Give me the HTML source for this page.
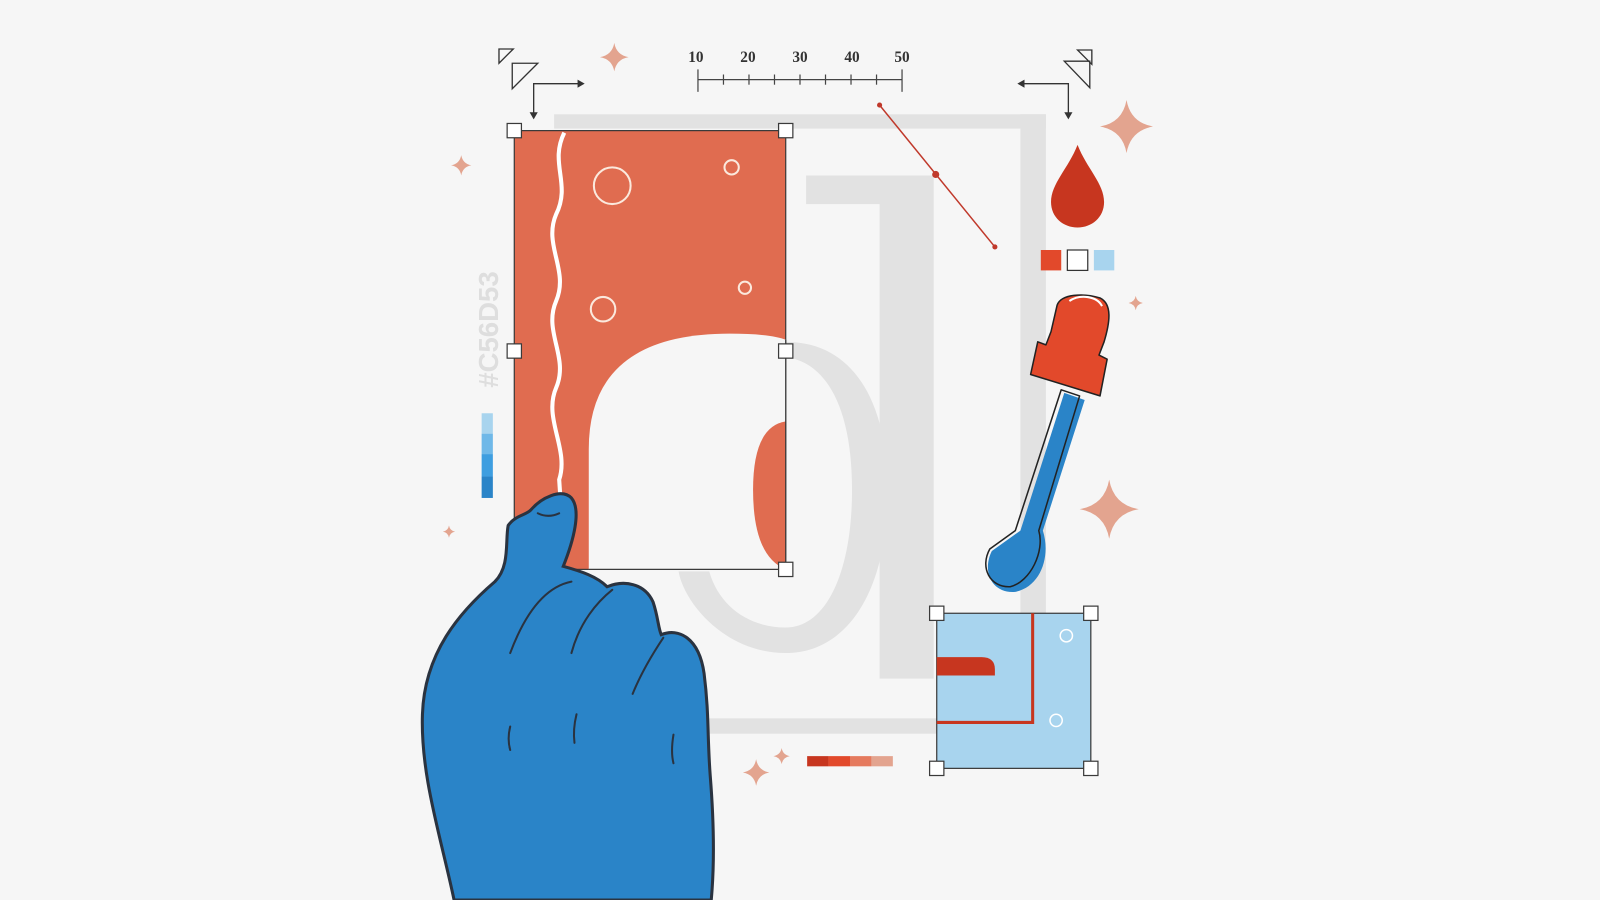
<!DOCTYPE html>
<html><head><meta charset="utf-8"><style>
html,body{margin:0;padding:0;background:#f6f6f6;width:1600px;height:900px;overflow:hidden}
svg{display:block}
</style></head><body>
<svg width="1600" height="900" viewBox="0 0 1568 882" xmlns="http://www.w3.org/2000/svg">
<defs>
<symbol id="sp" viewBox="-10 -10 20 20"><path d="M0,-10 Q1.5,-1.5 10,0 Q1.5,1.5 0,10 Q-1.5,1.5 -10,0 Q-1.5,-1.5 0,-10Z" fill="#e3a48f"/></symbol>
</defs>
<rect width="1568" height="882" fill="#f6f6f6"/>
<g fill="#e2e2e2">
<rect x="543" y="112" width="482" height="14"/>
<rect x="1000" y="112" width="25" height="490"/>
<rect x="690" y="704" width="228" height="15"/>
<path d="M790,172 L915,172 L915,665 L862,665 L862,200 L790,200Z"/>
<path d="M770,335 C840,335 870,400 870,480 C870,580 830,640 770,640 C710,640 670,590 665,560 L695,560 C705,595 735,615 770,615 C810,615 835,560 835,480 C835,400 810,355 770,350Z"/>
</g>
<rect x="504" y="128" width="266" height="430" fill="#e06c50" stroke="#3a3a3a" stroke-width="1.2"/>
<path d="M577,558 L577,440 Q577,327 715,327 Q755,327 770,333 L770,558Z" fill="#f6f6f6"/>
<path d="M770,413 Q738,418 738,480 Q738,545 770,558Z" fill="#e06c50"/>
<path d="M770,333 L770,558 L577,558" fill="none" stroke="#3a3a3a" stroke-width="1.2"/>
<path d="M553,130 C538,160 560,180 545,210 C532,240 558,265 545,295 C532,325 558,350 545,380 C532,410 558,440 548,470 L550,500" fill="none" stroke="#fff" stroke-width="4"/>
<g fill="none" stroke="#fbe9dd" stroke-width="2">
<circle cx="600" cy="182" r="18"/><circle cx="717" cy="164" r="7"/><circle cx="591" cy="303" r="12"/><circle cx="730" cy="282" r="6"/>
</g>
<g fill="#fff" stroke="#3a3a3a" stroke-width="1.2">
<rect x="497" y="121" width="14" height="14"/><rect x="763" y="121" width="14" height="14"/>
<rect x="497" y="337" width="14" height="14"/><rect x="763" y="337" width="14" height="14"/>
<rect x="763" y="551" width="14" height="14"/>
</g>
<g fill="none" stroke="#333" stroke-width="1.3">
<path d="M489,48 L503,48 L489,62Z"/><path d="M502,62 L527,62 L502,87Z"/>
<path d="M523,112 L523,82 L570,82"/>
<path d="M1081,48 L1081,62 L1067,48Z" transform="translate(-11,1)"/>
<path d="M1068,60 L1068,86 L1043,60Z"/>
<path d="M1047,112 L1047,82 L1000,82"/>
</g>
<g fill="#333"><path d="M519,110 L523,117 L527,110Z"/><path d="M566,78 L573,82 L566,86Z"/><path d="M1043,110 L1047,117 L1051,110Z"/><path d="M1004,78 L997,82 L1004,86Z"/></g>
<g font-family="Liberation Serif, serif" font-weight="bold" font-size="15" fill="#333" text-anchor="middle">
<text x="682" y="61">10</text><text x="733" y="61">20</text><text x="784" y="61">30</text><text x="835" y="61">40</text><text x="884" y="61">50</text>
</g>
<g stroke="#444" stroke-width="1.2">
<line x1="684" y1="78" x2="884" y2="78"/><line x1="684" y1="68" x2="684" y2="90"/><line x1="884" y1="68" x2="884" y2="90"/>
<line x1="709" y1="73" x2="709" y2="83"/><line x1="734" y1="73" x2="734" y2="83"/><line x1="759" y1="73" x2="759" y2="83"/><line x1="784" y1="73" x2="784" y2="83"/><line x1="809" y1="73" x2="809" y2="83"/><line x1="834" y1="73" x2="834" y2="83"/><line x1="859" y1="73" x2="859" y2="83"/>
</g>
<line x1="862" y1="103" x2="975" y2="242" stroke="#c0392b" stroke-width="1.5"/>
<g fill="#c0392b"><circle cx="862" cy="103" r="2.5"/><circle cx="917" cy="171" r="3.5"/><circle cx="975" cy="242" r="2.5"/></g>
<path d="M1056,142 C1065,165 1082,180 1082,198 C1082,213 1070,223 1056,223 C1042,223 1030,213 1030,198 C1030,180 1047,165 1056,142Z" fill="#c7361f"/>
<rect x="1020" y="245" width="20" height="20" fill="#e2492b"/>
<rect x="1046" y="245" width="20" height="20" fill="#fff" stroke="#333" stroke-width="1.2"/>
<rect x="1072" y="245" width="20" height="20" fill="#a8d4ee"/>
<text transform="translate(488,380) rotate(-90)" font-family="Liberation Sans, sans-serif" font-weight="bold" font-size="27" fill="#dedede">#C56D53</text>
<rect x="472" y="405" width="11" height="20" fill="#a8d4ee"/><rect x="472" y="425" width="11" height="20" fill="#6fb8e8"/><rect x="472" y="445" width="11" height="22" fill="#3e9ee0"/><rect x="472" y="467" width="11" height="21" fill="#2a84c8"/>
<rect x="791" y="741" width="21" height="10" fill="#c7361f"/><rect x="812" y="741" width="21" height="10" fill="#e2492b"/><rect x="833" y="741" width="21" height="10" fill="#e57a5e"/><rect x="854" y="741" width="21" height="10" fill="#e3a48f"/>
<use href="#sp" x="588" y="42" width="28" height="28"/>
<use href="#sp" x="442" y="152" width="20" height="20"/>
<use href="#sp" x="1078" y="98" width="52" height="52"/>
<use href="#sp" x="1106" y="290" width="14" height="14"/>
<use href="#sp" x="1058" y="470" width="58" height="58"/>
<use href="#sp" x="434" y="515" width="12" height="12"/>
<use href="#sp" x="728" y="744" width="26" height="26"/>
<use href="#sp" x="758" y="733" width="16" height="16"/>
<!-- eyedropper -->
<g stroke-linejoin="round">
<path d="M1043,385 L1063,392 L1022,520 C1030,545 1020,575 995,580 C972,582 962,560 972,540 L1000,520 Z" fill="#2a84c8"/>
<path d="M1040,382 L1058,388 L1018,520 C1024,540 1010,570 990,575 C970,576 960,556 970,538 L995,520 Z" fill="none" stroke="#222" stroke-width="1.5"/>
<path d="M1036,299 C1040,288 1062,287 1078,292 C1090,298 1088,315 1082,335 L1077,348 L1085,352 L1078,388 L1010,367 L1017,335 L1025,338 L1030,325Z" fill="#e2492b" stroke="#222" stroke-width="1.5"/>
<path d="M1048,295 C1058,288 1075,290 1080,300" fill="none" stroke="#fff" stroke-width="2"/>
</g>
<rect x="918" y="601" width="151" height="152" fill="#a8d4ee" stroke="#3a3a3a" stroke-width="1.2"/>
<path d="M1012,601 L1012,708 L918,708" fill="none" stroke="#c7361f" stroke-width="3"/>
<path d="M918,644 L962,644 Q975,644 975,656 L975,662 L918,662Z" fill="#c7361f"/>
<g fill="none" stroke="#fff" stroke-width="1.5"><circle cx="1045" cy="623" r="6"/><circle cx="1035" cy="706" r="6"/></g>
<g fill="#fff" stroke="#3a3a3a" stroke-width="1.2">
<rect x="911" y="594" width="14" height="14"/><rect x="1062" y="594" width="14" height="14"/>
<rect x="911" y="746" width="14" height="14"/><rect x="1062" y="746" width="14" height="14"/>
</g>
<path d="M445,882 C432,820 412,760 414,700 C416,640 450,600 485,570 C500,555 495,530 498,515 C505,505 515,505 520,500 C530,488 550,478 560,488 C570,500 562,530 552,555 C570,560 585,565 595,575 C612,568 632,572 640,590 C645,605 645,615 648,622 C665,615 685,625 690,660 C695,700 693,720 696,760 C700,810 700,850 697,882 Z" fill="#2a84c8" stroke="#2a3340" stroke-width="3"/>
<g fill="none" stroke="#2a3340" stroke-width="2" stroke-linecap="round">
<path d="M527,503 Q537,508 548,503"/>
<path d="M500,640 C515,600 535,575 560,570"/>
<path d="M560,640 C568,610 585,590 600,578"/>
<path d="M620,680 C628,660 640,640 650,625"/>
<path d="M500,712 C498,720 498,728 500,735"/><path d="M565,700 C562,712 562,720 563,728"/><path d="M660,720 C658,732 658,740 660,748"/>
</g>
</svg>
</body></html>
